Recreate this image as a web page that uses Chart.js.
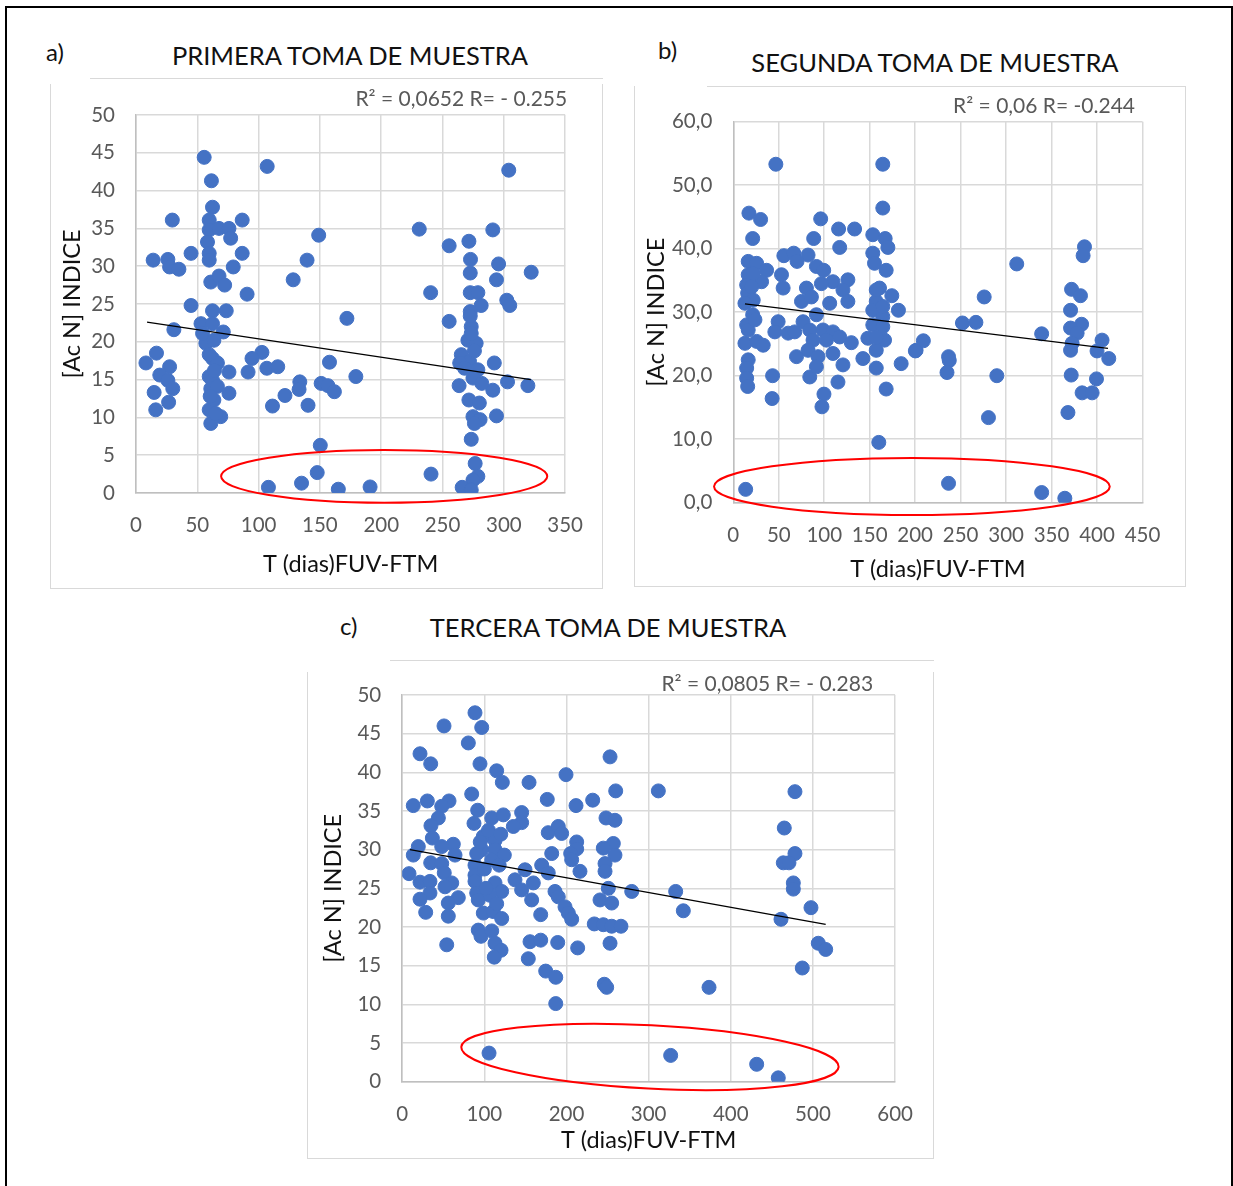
<!DOCTYPE html>
<html lang="es">
<head>
<meta charset="UTF-8">
<title>Toma de muestra</title>
<style>
    body { margin: 0; background: #fff; font-family: Lato, "Open Sans", sans-serif; }
    #page { position: relative; width: 1233px; height: 1186px; overflow: hidden; }
    .frame { position: absolute; left: 5px; top: 6px; width: 1224px; height: 1200px; border: 2px solid #000; }
    .box { position: absolute; border: 1.5px solid #d9d9d9; border-top: none; }
    .boxTop { position: absolute; height: 0; border-top: 1.5px solid #d9d9d9; }
    .txt { position: absolute; font-size: 24px; line-height: 24px; color: #111; white-space: nowrap; }
    .ttl { transform: translateX(-50%); font-size: 25.5px; line-height: 26px; }
    .wrap { position: absolute; }
</style>
</head>
<body>
<div id="page">
    <div class="frame"></div>

    <!-- a) -->
    <div class="box" style="left:50px; top:84px; width:551px; height:504px;"></div>
    <div class="boxTop" style="left:90px; top:78px; width:513px;"></div>
    <div class="txt" style="left:46px; top:40px;">a)</div>
    <div class="txt ttl" style="left:350px; top:42px;">PRIMERA TOMA DE MUESTRA</div>
    <div class="wrap" style="left:50px; top:78px;"><canvas id="chartA" width="553" height="512"></canvas></div>

    <!-- b) -->
    <div class="box" style="left:634px; top:86px; width:550px; height:500px;"></div>
    <div class="boxTop" style="left:707px; top:86px; width:479px;"></div>
    <div class="txt" style="left:658px; top:38px;">b)</div>
    <div class="txt ttl" style="left:935px; top:49px;">SEGUNDA TOMA DE MUESTRA</div>
    <div class="wrap" style="left:634px; top:86px;"><canvas id="chartB" width="552" height="502"></canvas></div>

    <!-- c) -->
    <div class="box" style="left:307px; top:672px; width:625px; height:486px;"></div>
    <div class="boxTop" style="left:390px; top:660px; width:544px;"></div>
    <div class="txt" style="left:340px; top:614px;">c)</div>
    <div class="txt ttl" style="left:608px; top:614px;">TERCERA TOMA DE MUESTRA</div>
    <div class="wrap" style="left:307px; top:660px;"><canvas id="chartC" width="627" height="500"></canvas></div>
</div>

<script src="https://cdn.jsdelivr.net/npm/chart.js"></script>
<script>
    // [T (dias), Ac N indice]
    const puntosA = [
        [55.6,44.4],[107,43.2],[61.5,41.3],[62.4,37.8],[29.6,36.1],[59.7,36.1],[86.6,36.1],[59.7,34.8],[67.7,35.0],[75.8,35.0],
        [77.2,33.7],[58.3,33.2],[44.9,31.7],[59.7,31.7],[86.6,31.7],[14,30.8],[26,30.9],[27.4,29.9],[35,29.6],[59.7,30.8],
        [79.3,29.9],[61,27.9],[67.7,28.7],[72.3,27.5],[90.6,26.3],[44.9,24.8],[62.4,24.1],[73.6,24.1],[53,22.4],[62.4,22.4],
        [30.9,21.6],[71.2,21.3],[57,19.8],[54.3,21.1],[16.7,18.5],[8.1,17.2],[27.4,16.7],[62.4,17.8],[66.4,17.2],[102.7,18.6],
        [94.6,17.8],[106.7,16.5],[115.6,16.7],[91.4,16.0],[19.4,15.6],[26,14.9],[30,13.8],[59.7,15.4],[75.8,16.0],[61,13.8],
        [75.8,13.2],[14.8,13.3],[26.6,12.0],[16.1,11.0],[59.7,11.0],[69.1,10.1],[61,9.2],[111.3,11.5],[121.5,12.9],[108,0.75],
        [63.5,20.2],[59.7,18.3],[63.5,12.3],[62.4,14.9],[66.4,14.1],[64,16.2],[60.5,12.8],[65,10.5],
        [304,42.7],[149,34.1],[231,34.9],[291,34.8],[139.5,30.8],[255.4,32.7],[271.5,33.3],[272.8,30.9],[295.7,30.3],[128.2,28.2],
        [272.6,29.1],[294,28.2],[322.3,29.2],[240.3,26.5],[272.6,26.5],[278.8,26.5],[281.5,24.8],[302.4,25.5],[304.8,24.8],[172,23.1],
        [255.4,22.7],[272.6,24.0],[273.4,22.0],[270.7,20.2],[277.4,19.8],[265.3,18.3],[272,17.4],[264,17.2],[278.8,16.3],[292.2,17.2],
        [157.8,17.3],[179.3,15.4],[133.6,14.7],[133,13.7],[151,14.5],[156.5,14.2],[161.8,13.4],[140.3,11.6],[263.5,14.2],[274.8,15.2],
        [291,13.6],[303,14.7],[319.6,14.2],[271.5,12.3],[280,11.9],[274.8,10.1],[280.6,9.7],[276,9.2],[294,10.2],[273.4,7.1],
        [150.3,6.3],[276.6,3.9],[147.8,2.7],[240.6,2.5],[278.8,2.2],[274.8,1.7],[135,1.3],[266,0.75],[273.4,0.4],[165,0.5],
        [190.9,0.8],[272.6,23.4],[273.4,21.1],[268,16.5],[276,18.8],[282,14.5]
    ];
    const puntosB = [
        [46.8,53.3],[164.4,53.3],[164.4,46.4],[17.2,45.6],[30,44.6],[96.1,44.7],[115.8,43.1],[133.4,43.1],[21.3,41.6],[88.4,41.6],
        [153.4,42.2],[167,41.6],[117,40.2],[170,40.2],[55.6,38.9],[66.5,39.3],[82.2,39.0],[70.1,38.0],[91.4,37.2],[99.4,36.6],
        [153.4,39.3],[155.3,37.7],[168.1,36.6],[16.4,38.0],[25.6,37.7],[36.6,36.6],[53,35.9],[16.4,35.9],[14.7,34.3],[31.1,34.8],
        [54.8,33.8],[109.6,34.8],[126,35.1],[96.9,34.5],[80.4,33.8],[120.6,33.5],[160.8,33.8],[174.3,32.6],[15.8,33.0],[21.9,31.9],
        [75,31.7],[85.9,32.4],[106,31.4],[126,31.7],[157.2,31.7],[12.8,31.4],[181.6,30.3],[21.3,29.6],[153.4,30.3],[164.4,29.3],
        [49.3,28.5],[76.7,28.5],[91.4,29.6],[14.7,28.0],[16.4,27.2],[45.7,26.9],[60.3,26.7],[67.6,26.9],[84.1,27.2],[98.6,27.2],
        [109.6,26.9],[153.4,28.0],[164.4,27.7],[12.8,25.1],[25.6,25.4],[32.9,24.8],[87.7,25.6],[102.4,25.6],[117,26.1],[129.8,25.2],
        [148,25.9],[166.3,25.6],[157.2,24.0],[69.5,23.0],[82.2,24.0],[93.2,23.0],[109.6,23.5],[120.6,21.7],[142.5,22.7],[184.6,21.9],
        [201,24.0],[16.4,22.5],[14.7,21.2],[14.7,19.6],[15.8,18.3],[43.2,20.0],[84.1,19.8],[91.4,21.4],[115.1,19.0],[157.2,21.2],
        [168.1,17.9],[42.7,16.4],[99.7,17.1],[97.5,15.1],[160,9.5],[13.6,2.1],[21.9,36.1],[20.2,34.0],[23.8,28.8],[157.2,33.5],
        [157.2,26.0],[164.4,30.9],
        [386.2,40.3],[384.7,38.9],[311.7,37.6],[372,33.6],[381.8,32.6],[275.9,32.4],[370.9,30.3],[383,28.1],[370.9,27.5],[252,28.3],
        [266.8,28.4],[339.1,26.6],[378.1,26.7],[405.5,25.6],[372.6,25.1],[370.9,24.0],[400,23.9],[412.9,22.7],[209,25.5],[200.2,23.9],
        [236.7,23.0],[237.5,22.4],[235,20.5],[289.8,20.0],[371.6,20.1],[399.4,19.5],[383.6,17.3],[394.6,17.3],[280.6,13.4],[368,14.2],
        [236.7,3.05],[339.1,1.6],[364.6,0.7]
    ];
    const puntosC = [
        [88.6,47.7],[50.9,46.0],[96.8,45.8],[80.5,43.8],[21.7,42.4],[34.7,41.1],[94.7,41.1],[253,42.0],[115,40.2],[121.9,38.7],
        [154.4,38.7],[199.4,39.7],[259.9,37.6],[311.8,37.6],[84.6,37.2],[13.5,35.7],[30.6,36.3],[57,36.3],[176.6,36.5],[211.6,35.7],
        [231.9,36.4],[48.1,35.6],[44,34.1],[91.9,35.1],[145.4,34.8],[87.4,33.4],[109,34.1],[123.1,34.5],[145.4,33.5],[135.3,33.0],
        [35,33.1],[177.8,32.2],[190,33.0],[194.1,32.1],[248.1,34.1],[259,33.8],[36.7,31.5],[98.7,31.7],[113,31.2],[212.4,31.0],
        [257,30.8],[19.6,30.4],[62.2,30.7],[96.8,30.0],[113,30.0],[212.4,30.1],[244.8,30.2],[13.5,29.3],[48.1,30.4],[64.3,29.3],
        [90.7,29.5],[124.3,29.3],[182,29.5],[205.1,29.5],[259,29.3],[34.7,28.3],[48.1,28.2],[88.6,28.0],[109,28.7],[169.8,28.0],
        [206.3,28.7],[246.9,28.2],[8.3,26.9],[51.2,27.0],[88.6,26.7],[149.5,27.4],[177.8,27.0],[216.4,27.2],[246.9,27.2],[21.7,25.8],
        [33.8,25.9],[60.3,25.7],[88.6,25.9],[113,25.7],[137.3,26.1],[159.6,25.7],[52.1,25.2],[33.8,24.4],[90.7,24.4],[121.1,24.6],
        [145.4,24.8],[186,24.6],[250.9,25.0],[279.4,24.6],[21.7,23.6],[68.3,23.8],[56.1,23.1],[92.6,23.5],[106.9,24.1],[157.6,23.5],
        [190,23.9],[240.8,23.5],[255,23.1],[28.6,21.9],[56.1,21.4],[98.7,21.8],[110.9,22.0],[121.1,21.1],[168.6,21.6],[198.2,22.6],
        [202.2,21.8],[206.3,21.0],[233.8,20.4],[244.8,20.3],[255,20.1],[266.3,20.1],[92.6,19.6],[95.9,18.8],[109,19.5],[113,17.9],
        [120.3,17.0],[112.1,16.1],[54.2,17.7],[155.6,18.1],[168.6,18.3],[189.3,18.0],[213.6,17.3],[253,17.9],[153.5,15.9],[174.7,14.3],
        [186.9,13.5],[246,12.6],[248.9,12.2],[186.9,10.1],[105.7,3.7],[100,27.5],[105,32.5],[118,28],[102,25],[95,31],[115,23],[120,32],
        [478.1,37.5],[465.1,32.8],[478.1,29.5],[463.9,28.3],[470.8,28.3],[476.1,25.7],[476.1,24.9],[332.9,24.6],[342.2,22.1],[497.6,22.5],
        [461.1,21.0],[506.5,17.9],[515.5,17.1],[487,14.7],[373.5,12.2],[326.8,3.4],[431.5,2.25],[457.8,0.5]
    ];

    // lineas de tendencia (extremos)
    const tendenciaA = [[9, 22.6], [322, 15.0]];
    const tendenciaB = [[12.8, 31.3], [412, 24.3]];
    const tendenciaC = [[9.5, 30.0], [515.5, 20.35]];

    const etiquetaA = "R² = 0,0652 R= - 0.255";
    const etiquetaB = "R² = 0,06 R= -0.244";
    const etiquetaC = "R² = 0,0805 R= - 0.283";

    // zona de valores bajos: [centro x, centro y, radio x, radio y, giro (grados)]
    const zonaA = [202.4, 2.2, 133, 3.5, 0];
    const zonaB = [196.4, 2.55, 217.6, 4.5, 0];
    const zonaC = [301.6, 3.2, 230, 4.1, 3];

    const ejeX = "T (dias)FUV-FTM";
    const ejeY = "[Ac N] INDICE";

    function toXY(arr) {
        return arr.map(p => ({ x: p[0], y: p[1] }));
    }

    // texto R² y elipse roja
    const extras = {
        id: 'extras',
        afterDatasetsDraw(chart, args, opt) {
            const ctx = chart.ctx;
            const xs = chart.scales.x, ys = chart.scales.y;
            const z = opt.zona;
            const cx = xs.getPixelForValue(z[0]);
            const cy = ys.getPixelForValue(z[1]);
            const rx = Math.abs(xs.getPixelForValue(z[0] + z[2]) - cx);
            const ry = Math.abs(ys.getPixelForValue(z[1] + z[3]) - cy);
            ctx.save();
            ctx.strokeStyle = '#ff0000';
            ctx.lineWidth = 2;
            ctx.beginPath();
            ctx.ellipse(cx, cy, rx, ry, z[4] * Math.PI / 180, 0, Math.PI * 2);
            ctx.stroke();

            const area = chart.chartArea;
            ctx.font = '21px Lato, "Open Sans", sans-serif';
            ctx.fillStyle = '#595959';
            ctx.textAlign = 'right';
            ctx.textBaseline = 'middle';
            ctx.fillText(opt.texto, area.right + opt.dx, area.top + opt.dy);
            ctx.restore();
        }
    };

    function f_grafico(id, puntos, tendencia, o) {
        new Chart(document.getElementById(id), {
            type: 'scatter',
            data: {
                datasets: [{
                    type: 'line',
                    data: toXY(tendencia),
                    borderColor: '#000',
                    borderWidth: 1.3,
                    pointRadius: 0,
                    order: 0
                }, {
                    data: toXY(puntos),
                    backgroundColor: '#4472c4',
                    borderColor: '#4472c4',
                    borderWidth: 1,
                    pointRadius: 7,
                    order: 1
                }]
            },
            plugins: [extras],
            options: {
                responsive: false,
                animation: false,
                layout: { padding: { left: 0, top: o.top, right: o.right, bottom: 0 } },
                plugins: {
                    legend: { display: false },
                    tooltip: { enabled: false },
                    extras: { zona: o.zona, texto: o.texto, dx: o.dx, dy: o.dy }
                },
                scales: {
                    x: {
                        type: 'linear',
                        min: 0, max: o.xMax,
                        afterFit(s) { s.height = o.xH; },
                        ticks: { stepSize: o.xStep, padding: 20, color: '#595959', font: { family: 'Lato', size: 20.5 } },
                        grid: { color: '#d9d9d9', lineWidth: 1.5, drawTicks: false },
                        border: { color: '#bfbfbf', width: 1.5 },
                        title: { display: true, text: ejeX, color: '#111', font: { family: 'Lato', size: 23.5 }, padding: { top: 0, bottom: o.xTitlePad } }
                    },
                    y: {
                        min: 0, max: o.yMax,
                        afterFit(s) { s.width = o.yW; },
                        ticks: { stepSize: o.yStep, padding: 21, color: '#595959', font: { family: 'Lato', size: 20.5 }, callback: o.fmt },
                        grid: { color: '#d9d9d9', lineWidth: 1.5, drawTicks: false },
                        border: { color: '#bfbfbf', width: 1.5 },
                        title: { display: true, text: ejeY, color: '#111', font: { family: 'Lato', size: 23.5 }, padding: { top: o.yTitlePad, bottom: 0 } }
                    }
                }
            }
        });
    }

    const enteros = v => v;
    const decimales = v => v.toFixed(1).replace('.', ',');

    f_grafico('chartA', puntosA, tendenciaA, {
        xMax: 350, xStep: 50, yMax: 50, yStep: 5, fmt: enteros,
        top: 37, right: 35, yW: 86, xH: 97, xTitlePad: 11.9, yTitlePad: 7.9,
        zona: zonaA, texto: etiquetaA, dx: 2, dy: -16
    });
    f_grafico('chartB', puntosB, tendenciaB, {
        xMax: 450, xStep: 50, yMax: 60, yStep: 10, fmt: decimales,
        top: 35.7, right: 43.5, yW: 99.3, xH: 85.3, xTitlePad: 4.9, yTitlePad: 7.9,
        zona: zonaB, texto: etiquetaB, dx: -7.5, dy: -15.7
    });
    f_grafico('chartC', puntosC, tendenciaC, {
        xMax: 600, xStep: 100, yMax: 50, yStep: 5, fmt: enteros,
        top: 35, right: 38.9, yW: 95.2, xH: 78.3, xTitlePad: 5.9, yTitlePad: 11.9,
        zona: zonaC, texto: etiquetaC, dx: -22, dy: -11
    });
</script>
</body>
</html>
